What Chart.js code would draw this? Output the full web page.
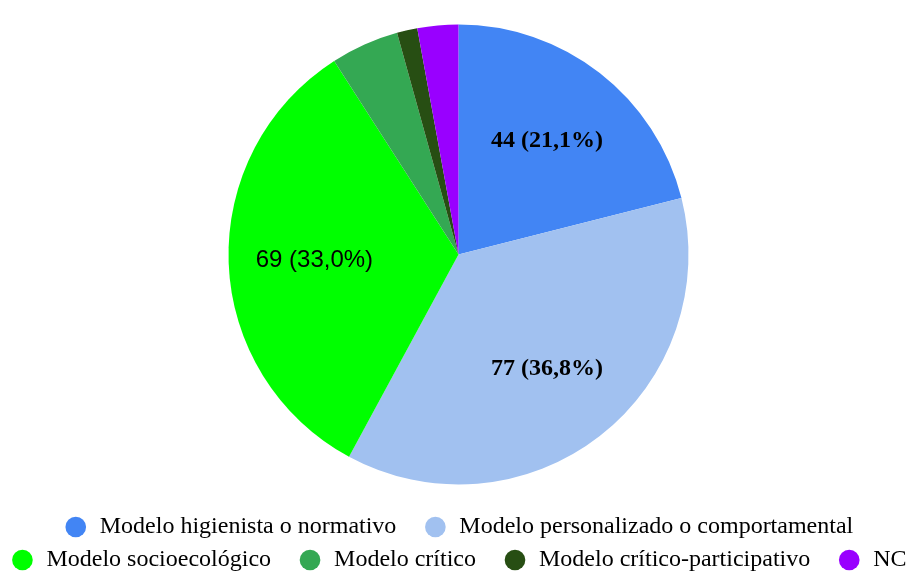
<!DOCTYPE html>
<html>
<head>
<meta charset="utf-8">
<script src="https://cdn.jsdelivr.net/npm/chart.js@4.4.0/dist/chart.umd.min.js"></script>
<style>
  html, body { margin: 0; padding: 0; background: #ffffff; }
  #wrap { width: 911px; height: 572px; position: relative; }
</style>
</head>
<body>
<div id="wrap"><canvas id="c"></canvas></div>
<script>
const categories = [
  "Modelo higienista o normativo",
  "Modelo personalizado o comportamental",
  "Modelo socioecológico",
  "Modelo crítico",
  "Modelo crítico-participativo",
  "NC"
];
const counts = [44, 77, 69, 10, 3, 6];
const percentLabels = ["21,1%", "36,8%", "33,0%", null, null, null];
const colors = ["#4285F4", "#A1C1F0", "#00FF00", "#34A853", "#274E13", "#9900FF"];
const labelFonts = [
  "bold 24px 'Liberation Serif', serif",
  "bold 24px 'Liberation Serif', serif",
  "24px 'Liberation Sans', Arial, sans-serif",
  null, null, null
];
const rowEnds = [1, 5];

const sliceLabels = {
  id: 'sliceLabels',
  afterDatasetsDraw(chart) {
    const ctx = chart.ctx;
    const meta = chart.getDatasetMeta(0);
    meta.data.forEach((arc, i) => {
      if (!percentLabels[i]) return;
      const p = arc.getProps(['x', 'y', 'startAngle', 'endAngle', 'outerRadius'], true);
      const mid = (p.startAngle + p.endAngle) / 2;
      const r = p.outerRadius * 0.627;
      const x = p.x + Math.cos(mid) * r;
      const y = p.y + Math.sin(mid) * r;
      ctx.save();
      ctx.font = labelFonts[i];
      ctx.fillStyle = '#000000';
      ctx.textAlign = 'center';
      ctx.textBaseline = 'middle';
      ctx.fillText(counts[i] + ' (' + percentLabels[i] + ')', x, y);
      ctx.restore();
    });
  }
};

// let the legend rows use slightly more room when wrapping
const EXTRA = 30;
function widenLegend(chart) {
  const lg = chart.legend;
  if (!lg || lg._widened) return;
  const origFit = lg.fit;
  lg.fit = function () {
    const mw = this.maxWidth;
    this.maxWidth = mw + EXTRA;
    origFit.call(this);
    this.maxWidth = mw;
    this.width = Math.min(this.width, mw);
  };
  lg._widened = true;
}
const legendWiden = {
  id: 'legendWiden',
  afterInit: widenLegend,
  beforeUpdate: widenLegend,
  beforeLayout: widenLegend,
  afterLayout(chart) {
    const lg = chart.legend;
    if (!lg) return;
    lg.left -= EXTRA / 2;
    lg.right += EXTRA / 2;
  }
};

new Chart(document.getElementById('c'), {
  type: 'pie',
  data: {
    labels: categories,
    datasets: [{
      data: counts,
      backgroundColor: colors,
      borderWidth: 0,
      radius: 230
    }]
  },
  options: {
    responsive: true,
    maintainAspectRatio: false,
    animation: false,
    layout: { padding: { top: 3, bottom: -10, left: 6, right: 0 } },
    plugins: {
      tooltip: { enabled: false },
      legend: {
        position: 'bottom',
        labels: {
          usePointStyle: true,
          pointStyle: 'circle',
          boxHeight: 14.6,
          boxWidth: 24,
          padding: 9,
          color: '#222222',
          font: { family: "'Liberation Serif', serif", size: 24 },
          generateLabels(chart) {
            return categories.map((c, i) => ({
              text: rowEnds.includes(i) ? c : c + '\u00a0\u00a0\u00a0',
              fillStyle: colors[i],
              strokeStyle: colors[i],
              lineWidth: 0,
              hidden: false,
              index: i,
              pointStyle: 'circle'
            }));
          }
        }
      }
    }
  },
  plugins: [sliceLabels, legendWiden]
});
</script>
</body>
</html>
